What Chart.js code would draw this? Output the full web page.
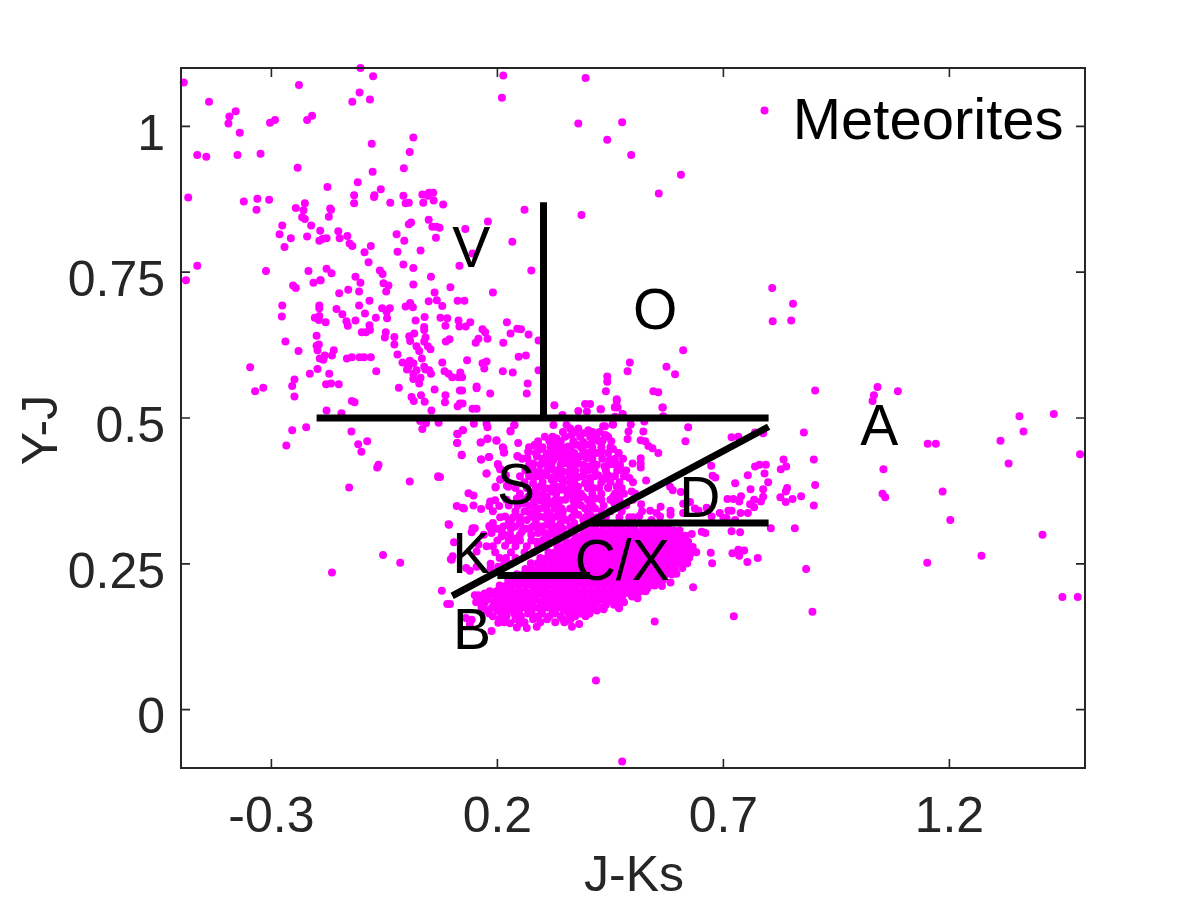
<!DOCTYPE html>
<html><head><meta charset="utf-8">
<style>html,body{margin:0;padding:0;background:#fff}canvas{display:block}</style>
<script src="https://cdn.jsdelivr.net/npm/chart.js@4"></script>
</head><body><canvas id="c" width="1200" height="900"></canvas>
<script>
const xTicks=[-0.3,0.2,0.7,1.2];
const yTicks=[0,0.25,0.5,0.75,1];
const classLabels=[["V",0.142,0.785],["O",0.549,0.68],["A",1.045,0.48],["S",0.241,0.379],["D",0.648,0.357],["K",0.142,0.262],["C/X",0.476,0.249],["B",0.144,0.131]];
const boundaries=[
 [[-0.2,0.5],[0.8,0.5]],
 [[0.302,0.5],[0.302,0.87]],
 [[0.1,0.195],[0.8,0.485]],
 [[0.405,0.32],[0.8,0.32]],
 [[0.2,0.23],[0.405,0.23]]
];
const topCloud=[[-0.494,1.075],[-0.438,1.042],[-0.239,1.071],[-0.103,1.1],[-0.075,1.086],[-0.105,1.058],[-0.121,1.042],[-0.082,1.046],[-0.379,1.026],[-0.393,1.017],[-0.395,1.005],[-0.292,1.011],[-0.303,1.006],[-0.21,1.018],[-0.221,1.011],[-0.37,0.989],[0.014,0.981],[-0.078,0.97],[0.006,0.956],[-0.464,0.951],[-0.444,0.948],[-0.375,0.951],[-0.324,0.953],[-0.242,0.929],[-0.076,0.922],[-0.007,0.928],[-0.176,0.896],[-0.109,0.904],[-0.058,0.892],[-0.484,0.878],[-0.117,0.882],[-0.072,0.882],[-0.073,0.879],[-0.008,0.881],[0.034,0.883],[0.049,0.886],[0.058,0.886],[0.046,0.881],[-0.361,0.871],[-0.331,0.876],[-0.305,0.874],[-0.333,0.857],[-0.226,0.868],[-0.246,0.86],[-0.229,0.856],[-0.117,0.868],[-0.037,0.869],[-0.003,0.868],[0.004,0.869],[0.036,0.869],[0.059,0.873],[0.08,0.866],[-0.17,0.859],[-0.168,0.857],[-0.173,0.845],[-0.232,0.844],[-0.226,0.841],[-0.276,0.83],[-0.212,0.83],[-0.192,0.821],[-0.152,0.82],[-0.132,0.812],[-0.282,0.815],[-0.257,0.808],[-0.221,0.811],[-0.194,0.804],[-0.187,0.807],[-0.178,0.808],[-0.149,0.808],[-0.127,0.799],[-0.121,0.795],[-0.271,0.793],[-0.08,0.795],[-0.094,0.784],[-0.023,0.815],[-0.006,0.804],[-0.021,0.785],[0.03,0.787],[0.004,0.832],[0.009,0.835],[0.048,0.84],[0.056,0.828],[0.065,0.828],[0.072,0.826],[0.064,0.809],[0.129,0.824],[0.145,0.782],[-0.085,0.767],[-0.008,0.763],[0.014,0.757],[0.116,0.761],[-0.464,0.761],[-0.312,0.752],[-0.218,0.752],[-0.178,0.756],[-0.167,0.748],[-0.06,0.753],[-0.054,0.747],[0.053,0.742],[-0.114,0.742],[-0.192,0.736],[-0.489,0.736]];
const upperRight=[[0.213,1.087],[0.395,1.083],[0.21,1.049],[0.791,1.027],[0.379,1.005],[0.476,1.007],[0.443,0.977],[0.496,0.951],[0.606,0.917],[0.557,0.885],[0.26,0.857],[0.179,0.837],[0.386,0.848],[0.233,0.802],[0.275,0.753],[0.808,0.723]];
const midCloud=[[-0.252,0.727],[-0.246,0.723],[-0.207,0.732],[-0.191,0.736],[-0.103,0.732],[-0.052,0.731],[-0.041,0.727],[-0.046,0.717],[0.014,0.729],[0.096,0.724],[-0.15,0.714],[-0.13,0.72],[-0.106,0.717],[0.19,0.715],[0.061,0.715],[0.066,0.702],[0.048,0.7],[0.112,0.701],[0.127,0.701],[-0.083,0.701],[-0.276,0.693],[-0.194,0.693],[-0.194,0.688],[-0.106,0.693],[0.007,0.697],[-0.003,0.691],[0.013,0.69],[0.078,0.692],[-0.055,0.688],[-0.038,0.688],[-0.045,0.682],[-0.156,0.687],[-0.093,0.679],[-0.143,0.678],[-0.277,0.674],[-0.194,0.675],[-0.204,0.672],[-0.195,0.668],[-0.18,0.664],[-0.069,0.672],[-0.044,0.671],[-0.114,0.667],[-0.134,0.666],[-0.131,0.658],[0.039,0.673],[0.019,0.667],[0.074,0.672],[0.089,0.671],[0.085,0.658],[0.114,0.667],[0.116,0.657],[0.13,0.657],[0.14,0.664],[0.221,0.664],[-0.083,0.659],[-0.082,0.651],[-0.1,0.647],[-0.091,0.647],[-0.047,0.647],[-0.049,0.638],[0.038,0.656],[0.038,0.651],[0.016,0.645],[0.005,0.64],[0.007,0.632],[-0.028,0.639],[-0.028,0.626],[-0.2,0.641],[-0.269,0.631],[0.167,0.652],[0.173,0.647],[0.178,0.636],[0.158,0.636],[0.152,0.629],[0.229,0.645],[0.244,0.653],[0.252,0.652],[0.269,0.643],[0.291,0.633],[0.213,0.629],[0.041,0.638],[0.038,0.631],[0.086,0.631],[0.094,0.635],[0.021,0.623],[0.027,0.615],[0.046,0.623],[0.052,0.618],[-0.195,0.626],[-0.2,0.624],[-0.198,0.616],[-0.24,0.615],[-0.162,0.616],[-0.166,0.607],[-0.182,0.607],[-0.193,0.602],[-0.185,0.6],[-0.133,0.602],[-0.122,0.604],[-0.105,0.604],[-0.095,0.604],[-0.08,0.604],[-0.021,0.609],[0.033,0.602],[0.247,0.605],[0.263,0.607],[-0.347,0.587],[-0.01,0.595],[0.006,0.598],[0.014,0.594],[0.078,0.595],[0.133,0.599],[0.167,0.594],[0.176,0.597],[0.171,0.585],[-0.198,0.584],[-0.215,0.576],[-0.172,0.576],[-0.068,0.58],[0.003,0.588],[0,0.583],[0.021,0.582],[0.038,0.588],[0.041,0.583],[0.049,0.582],[0.053,0.576],[0.083,0.58],[0.092,0.576],[0.1,0.57],[0.114,0.57],[0.118,0.578],[0.122,0.57],[0.212,0.58],[0.234,0.578],[0.291,0.582],[0.014,0.576],[0.014,0.567],[0.03,0.569],[0.027,0.559],[-0.249,0.566],[-0.254,0.555],[-0.179,0.558],[-0.168,0.559],[-0.151,0.558],[-0.318,0.552],[-0.336,0.546],[-0.018,0.552],[0.061,0.549],[0.117,0.547],[0.122,0.547],[0.154,0.554],[0.154,0.551],[0.267,0.559],[0.265,0.542],[0.184,0.542],[-0.249,0.537],[0.031,0.539],[0.085,0.539],[0.01,0.536],[0.015,0.529],[0.039,0.528],[0.084,0.527],[0.117,0.525],[0.123,0.525],[0.112,0.52],[-0.122,0.529],[-0.116,0.527],[0.145,0.516],[0.154,0.516],[-0.178,0.513],[-0.145,0.508],[0.054,0.513],[0.029,0.495],[0.042,0.491],[0.07,0.492],[0.148,0.49],[0.176,0.49],[0.178,0.484],[0.238,0.488],[0.229,0.477],[0.034,0.481],[0.124,0.479],[0.112,0.472],[-0.254,0.479],[-0.223,0.484],[-0.123,0.477],[-0.108,0.455],[-0.088,0.46],[-0.267,0.453],[-0.101,0.442],[0.111,0.457],[0.163,0.458],[0.178,0.465],[0.198,0.462],[0.246,0.457],[0.282,0.453],[0.212,0.45],[0.214,0.441],[0.121,0.436],[0.164,0.429],[0.182,0.433],[0.245,0.434],[0.269,0.442],[0.266,0.431],[0.287,0.435],[0.201,0.421],[0.279,0.421],[-0.063,0.42],[-0.066,0.415],[0.176,0.405],[0.069,0.4],[0.006,0.391],[-0.128,0.381],[0.207,0.412],[0.207,0.395],[0.196,0.382],[0.221,0.384],[-0.166,0.235],[-0.053,0.265],[-0.015,0.252],[0.418,0.05],[0.476,-0.089]];
const rightCloud=[[0.854,0.696],[0.809,0.666],[0.85,0.667],[0.611,0.616],[0.493,0.595],[0.488,0.58],[0.574,0.588],[0.593,0.575],[0.443,0.571],[0.443,0.562],[0.44,0.546],[0.545,0.546],[0.556,0.544],[0.903,0.547],[1.041,0.553],[1.086,0.546],[1.033,0.539],[1.03,0.529],[0.464,0.532],[0.46,0.518],[0.466,0.518],[0.565,0.518],[0.429,0.515],[0.477,0.506],[0.567,0.503],[0.46,0.502],[1.355,0.503],[1.431,0.507],[0.622,0.484],[0.438,0.486],[0.455,0.489],[0.495,0.489],[0.525,0.494],[0.49,0.477],[0.523,0.477],[0.878,0.475],[1.364,0.477],[0.44,0.47],[0.433,0.462],[0.488,0.464],[0.517,0.462],[0.527,0.46],[0.616,0.46],[0.718,0.467],[0.733,0.468],[0.77,0.475],[0.788,0.474],[1.313,0.461],[1.152,0.456],[1.17,0.456],[0.534,0.452],[0.543,0.448],[0.456,0.447],[0.468,0.44],[0.431,0.442],[0.556,0.44],[1.489,0.438],[0.449,0.429],[0.517,0.431],[0.517,0.422],[0.517,0.415],[0.499,0.422],[0.456,0.421],[0.471,0.42],[0.475,0.411],[0.437,0.417],[0.833,0.429],[0.9,0.429],[0.673,0.418],[0.77,0.417],[0.78,0.42],[0.794,0.42],[0.839,0.417],[0.827,0.412],[1.331,0.422],[1.054,0.412],[0.754,0.402],[0.791,0.405],[0.676,0.401],[0.682,0.398],[0.445,0.402],[0.434,0.394],[0.492,0.397],[0.529,0.393],[0.799,0.39],[0.726,0.388],[0.903,0.385],[0.464,0.382],[0.445,0.381],[0.582,0.382],[0.588,0.376],[0.606,0.373],[0.76,0.378],[0.788,0.378],[0.841,0.38],[0.838,0.374],[0.497,0.374],[0.471,0.369],[0.456,0.365],[1.185,0.374],[1.052,0.37],[1.058,0.364],[0.739,0.366],[0.788,0.365],[0.709,0.361],[0.722,0.361],[0.735,0.357],[0.768,0.36],[0.783,0.357],[0.826,0.364],[0.853,0.361],[0.872,0.366],[0.838,0.356],[0.9,0.35],[0.456,0.357],[0.518,0.352],[0.626,0.356],[0.611,0.353],[0.759,0.352],[0.768,0.347],[0.561,0.348],[0.637,0.345],[0.663,0.346],[0.538,0.341],[0.552,0.337],[0.583,0.341],[0.583,0.334],[0.645,0.341],[0.711,0.341],[0.718,0.341],[0.754,0.337],[0.738,0.337],[0.692,0.337],[0.492,0.33],[0.514,0.332],[0.56,0.331],[0.611,0.337],[0.674,0.331],[0.7,0.329],[0.707,0.328],[0.726,0.325],[0.541,0.325],[1.202,0.325],[0.805,0.311],[0.858,0.311],[0.718,0.306],[0.737,0.304],[0.652,0.305],[0.66,0.303],[0.63,0.301],[1.406,0.3],[0.672,0.269],[0.72,0.268],[0.733,0.274],[0.746,0.273],[0.735,0.264],[0.675,0.251],[0.776,0.26],[0.753,0.253],[1.271,0.264],[1.151,0.252],[0.883,0.241],[0.609,0.243],[0.596,0.233],[0.583,0.218],[0.633,0.21],[0.564,0.212],[0.532,0.208],[0.492,0.21],[0.51,0.191],[1.45,0.193],[1.484,0.193],[0.469,0.174],[0.435,0.172],[0.897,0.168],[0.723,0.16],[0.548,0.151],[0.626,0.265],[0.615,0.268],[0.602,0.263],[0.617,0.26]];
const aboveDiagonal=[[0.326,0.522],[0.394,0.524],[0.405,0.524],[0.428,0.515],[0.379,0.512],[0.398,0.511],[0.46,0.519],[0.464,0.529],[0.566,0.518],[0.477,0.507],[0.344,0.505],[0.324,0.488],[0.353,0.488],[0.361,0.482],[0.379,0.482],[0.364,0.471],[0.39,0.474],[0.401,0.479],[0.434,0.486],[0.456,0.489],[0.438,0.471],[0.431,0.459],[0.39,0.459],[0.331,0.465],[0.327,0.454],[0.357,0.451],[0.375,0.454],[0.397,0.454],[0.361,0.437],[0.327,0.434],[0.368,0.428],[0.342,0.428],[0.397,0.431],[0.409,0.442],[0.39,0.442],[0.412,0.422],[0.361,0.411],[0.335,0.411],[0.32,0.422],[0.372,0.399],[0.405,0.397],[0.423,0.402],[0.346,0.394],[0.324,0.391],[0.379,0.382],[0.412,0.38],[0.353,0.377],[0.327,0.374],[0.39,0.365],[0.416,0.362],[0.368,0.359],[0.339,0.359],[0.32,0.354],[0.361,0.345],[0.394,0.345],[0.416,0.345],[0.335,0.334],[0.379,0.334],[0.405,0.334],[0.32,0.325],[0.353,0.325],[0.39,0.325],[0.361,0.314],[0.342,0.445],[0.379,0.422],[0.39,0.411],[0.353,0.422],[0.331,0.445],[0.383,0.434],[0.379,0.399],[0.361,0.388],[0.394,0.388],[0.342,0.345],[0.375,0.371],[0.405,0.354],[0.35,0.44],[0.401,0.417],[0.346,0.408],[0.361,0.368],[0.342,0.377],[0.327,0.345],[0.379,0.357],[0.324,0.411],[0.32,0.397],[0.335,0.397],[0.32,0.374],[0.237,0.488],[0.229,0.478],[0.268,0.442],[0.283,0.454],[0.294,0.446],[0.309,0.439],[0.327,0.465],[0.331,0.451],[0.266,0.431],[0.279,0.422],[0.288,0.434],[0.305,0.422],[0.324,0.428],[0.335,0.434],[0.294,0.408],[0.309,0.402],[0.283,0.399],[0.331,0.405],[0.32,0.394],[0.279,0.388],[0.294,0.382],[0.309,0.379],[0.331,0.382],[0.206,0.394],[0.202,0.419],[0.206,0.412],[0.219,0.402],[0.224,0.382],[0.196,0.381],[0.244,0.435],[0.213,0.448],[0.215,0.441],[0.198,0.461],[0.178,0.464],[0.163,0.458],[0.164,0.429],[0.181,0.433],[0.176,0.405],[0.121,0.437],[0.111,0.457],[0.111,0.473],[0.123,0.479],[0.136,0.371],[0.147,0.367],[0.11,0.349],[0.123,0.346],[0.126,0.345],[0.147,0.35],[0.164,0.344],[0.184,0.357],[0.182,0.349],[0.195,0.359],[0.204,0.349],[0.243,0.362],[0.257,0.354],[0.206,0.33],[0.217,0.331],[0.231,0.326],[0.25,0.322],[0.272,0.337],[0.283,0.348],[0.294,0.359],[0.309,0.365],[0.327,0.359],[0.265,0.325],[0.294,0.331],[0.316,0.334],[0.331,0.331],[0.279,0.314],[0.309,0.317],[0.327,0.314],[0.257,0.311],[0.182,0.315],[0.15,0.311],[0.093,0.317],[0.073,0.399],[0.213,0.314],[0.239,0.314],[0.268,0.365],[0.294,0.345],[0.309,0.348],[0.327,0.345],[0.276,0.371],[0.143,0.304],[0.184,0.312],[0.187,0.303],[0.209,0.307],[0.209,0.297],[0.228,0.3],[0.235,0.291],[0.254,0.305],[0.265,0.28],[0.217,0.281],[0.176,0.28],[0.158,0.283],[0.104,0.287],[0.101,0.263],[0.099,0.257],[0.131,0.243],[0.139,0.238],[0.154,0.245],[0.185,0.243],[0.219,0.26],[0.202,0.245],[0.154,0.271],[0.243,0.294],[0.272,0.311],[0.298,0.314],[0.287,0.288],[0.316,0.3],[0.338,0.308],[0.305,0.303],[0.29,0.303],[0.301,0.291],[0.145,0.311],[0.097,0.258],[0.077,0.204],[0.089,0.181],[0.069,0.399],[0.092,0.318]];
const lowerFringe=[[0.15,0.196],[0.158,0.196],[0.095,0.181],[0.143,0.154],[0.139,0.147],[0.187,0.135],[0.13,0.157],[0.25,0.148],[0.265,0.14],[0.287,0.142],[0.291,0.16],[0.243,0.141],[0.228,0.148],[0.202,0.149],[0.352,0.152],[0.381,0.147],[0.365,0.142],[0.469,0.175],[0.434,0.173]];
const coreRowY=[0.317,0.307,0.298,0.288,0.279,0.27,0.26,0.251,0.241,0.232,0.222,0.213,0.203,0.194,0.184,0.175,0.165,0.155];
const coreRowX=[
[.405,.418,.434,.447,.463,.476,.492,.505,.521,.534,.549,.563,.578],
[.392,.406,.419,.433,.449,.462,.477,.491,.504,.52,.533,.547,.562,.576,.59,.603],
[.372,.387,.401,.414,.43,.443,.457,.472,.486,.501,.514,.529,.543,.558,.571,.586,.6,.616],
[.352,.367,.381,.395,.41,.423,.438,.452,.467,.48,.496,.509,.524,.538,.552,.567,.581,.596,.61,.622],
[.333,.347,.362,.376,.39,.405,.418,.433,.447,.461,.476,.49,.504,.518,.533,.547,.562,.576,.59,.604,.618,.632],
[.313,.328,.343,.356,.371,.385,.4,.414,.428,.443,.456,.471,.485,.5,.513,.528,.542,.556,.571,.585,.598,.613,.627,.64],
[.295,.309,.323,.338,.352,.367,.38,.395,.409,.424,.437,.452,.466,.48,.495,.509,.523,.537,.552,.566,.58,.595,.609,.624],
[.274,.289,.303,.318,.332,.346,.361,.375,.39,.404,.418,.432,.447,.461,.476,.49,.504,.518,.533,.547,.562,.576,.59,.604,.62],
[.262,.276,.291,.305,.319,.334,.348,.362,.377,.391,.405,.42,.434,.448,.463,.477,.491,.505,.52,.534,.549,.563,.577,.592],
[.243,.258,.272,.286,.3,.315,.329,.344,.358,.372,.386,.401,.415,.43,.444,.458,.472,.487,.501,.516,.53,.544,.559,.573,.586],
[.224,.238,.253,.267,.281,.296,.31,.324,.339,.353,.367,.382,.396,.41,.425,.439,.453,.468,.482,.496,.511,.525,.539,.554,.566],
[.205,.22,.234,.248,.263,.277,.291,.306,.32,.334,.349,.363,.377,.392,.406,.42,.435,.449,.463,.478,.492,.506,.521,.535,.548],
[.183,.198,.214,.23,.247,.262,.279,.295,.31,.327,.343,.358,.374,.39,.406,.422,.437,.454,.469,.485,.501,.516,.528],
[.165,.181,.198,.216,.233,.25,.268,.285,.303,.32,.337,.355,.372,.389,.407,.424,.441,.459,.476,.498],
[.153,.172,.193,.214,.235,.255,.276,.296,.317,.338,.358,.379,.4,.42,.441,.462,.48],
[.165,.188,.212,.236,.26,.284,.31,.335,.36,.384,.408,.432],
[.182,.208,.237,.268,.299,.328,.358,.384,.404],
[.205,.24,.279,.31,.345,.362]];
const massRowY=[.476,.468,.46,.45,.44,.43,.42,.41,.4,.39,.38,.37,.36,.35,.34,.33,.32,.31,.3,.29,.28,.27,.26,.25,.199,.189,.18,.17,.16,.15];
const massRowX=[
[.345,.372,.41,.426],
[.305,.322,.35,.383,.405,.418,.445],
[.29,.315,.34,.368,.41,.425,.452],
[.27,.3,.318,.345,.362,.385,.41,.43,.45],
[.285,.318,.338,.37,.4,.42,.445,.468],
[.255,.3,.315,.352,.375,.41,.432,.46,.478],
[.27,.295,.315,.34,.365,.39,.42,.445,.47],
[.262,.28,.31,.372,.4,.415,.44,.465,.485],
[.25,.27,.295,.34,.36,.39,.415,.44,.46,.48],
[.26,.3,.345,.37,.405,.43,.45,.47,.5],
[.24,.265,.285,.32,.345,.365,.4,.425,.445,.475],
[.25,.285,.3,.33,.355,.385,.41,.43,.46,.48,.505],
[.22,.26,.28,.31,.35,.375,.4,.43,.45,.47,.5],
[.225,.245,.27,.305,.335,.37,.385,.41,.435,.46,.485],
[.19,.24,.26,.285,.31,.345,.37,.4,.43,.45,.475,.52],
[.235,.25,.28,.305,.345,.365,.395,.42,.44,.47,.5],
[.19,.225,.25,.285,.315,.34,.37,.4],
[.2,.23,.265,.29,.32,.345,.375],
[.17,.215,.25,.275,.33,.355],
[.2,.225,.25,.275,.31,.335],
[.19,.24,.29,.3],
[.195,.23,.26,.28],
[.205,.24],
[.185,.215,.23],
[.172,.19,.206,.224,.24,.258,.275,.29,.31,.335,.35,.365,.382,.398,.414,.43,.447,.463,.48,.493,.51],
[.16,.18,.205,.225,.245,.265,.285,.307,.328,.348,.368,.39,.41,.43,.45,.47],
[.17,.198,.225,.25,.27,.3,.325,.35,.372,.395,.415,.44,.458],
[.176,.2,.222,.248,.275,.297,.322,.347,.372,.396,.42],
[.19,.22,.252,.282,.315,.34,.372,.395],
[.215,.26,.295,.328,.348]];
const fromRows=(ys,xs)=>ys.flatMap((y,i)=>xs[i].map(x=>({x,y})));
const toPts=a=>a.map(p=>({x:p[0],y:p[1]}));
const meteorites=[...toPts(topCloud),...toPts(upperRight),...toPts(midCloud),...toPts(rightCloud),...toPts(aboveDiagonal),...toPts(lowerFringe),...fromRows(coreRowY,coreRowX),...fromRows(massRowY,massRowX)];
const INK='#262626';
const FONT='"Liberation Sans", Arial, sans-serif';
const overlay={id:'overlay',
 afterDatasetsDraw(ch){
  const {ctx,scales:{x,y},chartArea:a}=ch;
  ctx.save();
  ctx.strokeStyle=INK;ctx.lineWidth=2;
  ctx.strokeRect(a.left,a.top,a.right-a.left,a.bottom-a.top);
  ctx.lineWidth=1.6;
  const L=9;
  xTicks.forEach(v=>{const p=x.getPixelForValue(v);ctx.beginPath();ctx.moveTo(p,a.bottom);ctx.lineTo(p,a.bottom-L);ctx.moveTo(p,a.top);ctx.lineTo(p,a.top+L);ctx.stroke();});
  yTicks.forEach(v=>{const p=y.getPixelForValue(v);ctx.beginPath();ctx.moveTo(a.left,p);ctx.lineTo(a.left+L,p);ctx.moveTo(a.right,p);ctx.lineTo(a.right-L,p);ctx.stroke();});
  ctx.fillStyle='#000';ctx.textAlign='center';ctx.textBaseline='middle';
  ctx.font='57px '+FONT;
  classLabels.forEach(([t,vx,vy])=>ctx.fillText(t,x.getPixelForValue(vx),y.getPixelForValue(vy)));
  ctx.font='58px '+FONT;
  ctx.fillText('Meteorites',x.getPixelForValue(1.153),y.getPixelForValue(1.006));
  ctx.fillStyle=INK;ctx.font='50px '+FONT;
  ctx.fillText('J-Ks',634,877);
  ctx.translate(43,430);ctx.rotate(-Math.PI/2);
  ctx.fillText('Y-J',0,0);
  ctx.restore();
 }};
const axisFont={family:FONT,size:50};
new Chart(document.getElementById('c'),{
 type:'scatter',
 data:{datasets:[
  ...boundaries.map(b=>({data:toPts(b),showLine:true,borderColor:'#000',borderWidth:7,pointRadius:0,order:0,borderCapStyle:'butt'})),
  {data:meteorites,backgroundColor:'#ff00ff',borderWidth:0,pointRadius:4,order:1,clip:false}
 ]},
 options:{responsive:false,animation:false,devicePixelRatio:1,
  layout:{padding:{top:68,right:115,left:0,bottom:0}},
  plugins:{legend:{display:false},tooltip:{enabled:false}},
  scales:{
   x:{type:'linear',min:-0.5,max:1.5,
    afterBuildTicks:s=>{s.ticks=xTicks.map(value=>({value}));},
    afterFit:s=>{s.height=132;},
    grid:{display:false},border:{display:false},
    ticks:{font:axisFont,color:INK,padding:12,maxRotation:0,callback:v=>String(v)},
    title:{display:false}},
   y:{type:'linear',min:-0.1,max:1.1,
    afterBuildTicks:s=>{s.ticks=yTicks.map(value=>({value}));},
    afterFit:s=>{s.width=181;},
    grid:{display:false},border:{display:false},
    ticks:{font:axisFont,color:INK,padding:8,labelOffset:10,callback:v=>String(v)},
    title:{display:false}}
  }},
 plugins:[overlay]
});
</script></body></html>
